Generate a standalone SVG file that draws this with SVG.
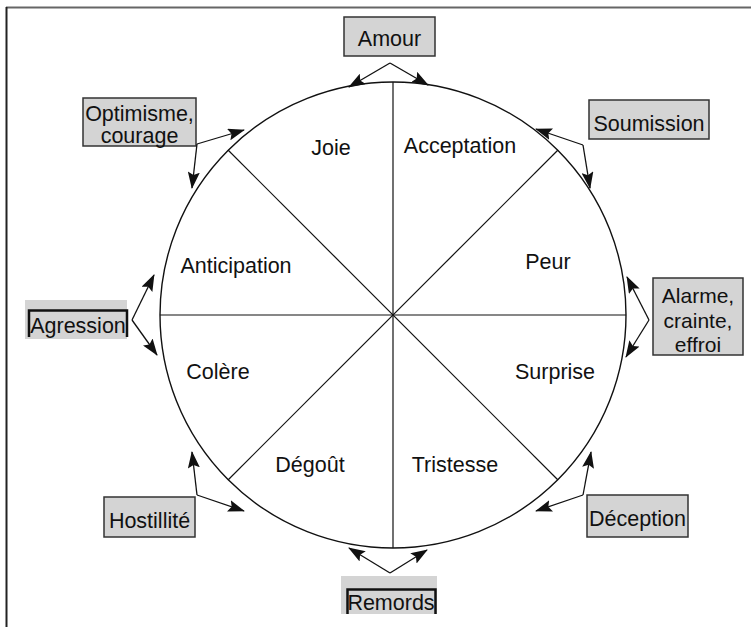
<svg xmlns="http://www.w3.org/2000/svg" width="751" height="627" viewBox="0 0 751 627">
<style>
text{font-family:"Liberation Sans",Arial,sans-serif;font-size:21.5px;fill:#111;text-anchor:middle}
.box{fill:#d4d4d4;stroke:#333;stroke-width:1.5}
.gbox{fill:#d4d4d4;stroke:none}
.frame{fill:none;stroke:#111;stroke-width:2.5}
.arr{fill:none;stroke:#111;stroke-width:1.3;marker-end:url(#ah)}
.sect{stroke:#111;stroke-width:1.2}
</style>
<defs>
<marker id="ah" markerUnits="userSpaceOnUse" markerWidth="17" markerHeight="12" refX="16" refY="6" orient="auto">
<path d="M0,0 L17,6 L0,12 L3,6 z" fill="#111"/>
</marker>
</defs>
<rect width="751" height="627" fill="#fff"/>
<line x1="6" y1="7.5" x2="751" y2="7.5" stroke="#666" stroke-width="2"/>
<line x1="6.5" y1="7" x2="6.5" y2="627" stroke="#222" stroke-width="2"/>
<g id="wheel">
<circle cx="393" cy="315" r="233" fill="none" stroke="#111" stroke-width="1.4"/>
<line class="sect" x1="160" y1="315" x2="626" y2="315"/>
<line class="sect" x1="393" y1="82" x2="393" y2="548"/>
<line class="sect" x1="228" y1="150" x2="558" y2="480"/>
<line class="sect" x1="558" y1="150" x2="228" y2="480"/>
<text x="331" y="155">Joie</text>
<text x="460" y="153">Acceptation</text>
<text x="548" y="269">Peur</text>
<text x="236" y="273">Anticipation</text>
<text x="218" y="379">Colère</text>
<text x="555" y="379">Surprise</text>
<text x="310" y="472">Dégoût</text>
<text x="455" y="472">Tristesse</text>
</g>
<g id="amour">
<rect class="box" x="344" y="17" width="91" height="39"/>
<text x="389.5" y="46">Amour</text>
</g>
<g id="optimisme">
<rect class="box" x="83" y="98" width="113" height="48"/>
<text x="139.5" y="121">Optimisme,</text>
<text x="139.5" y="143">courage</text>
</g>
<g id="soumission">
<rect class="box" x="589" y="100" width="120" height="39"/>
<text x="649" y="131">Soumission</text>
</g>
<g id="alarme">
<rect class="box" x="653" y="278" width="90" height="77"/>
<text x="698" y="303" style="font-size:21px">Alarme,</text>
<text x="698" y="328" style="font-size:21px">crainte,</text>
<text x="698" y="352" style="font-size:21px">effroi</text>
</g>
<g id="agression">
<rect class="gbox" x="25" y="300" width="102" height="39"/>
<path class="frame" d="M29,337 V310.5 H127 V337"/>
<text x="78" y="333">Agression</text>
</g>
<g id="hostilite">
<rect class="box" x="104" y="497" width="91" height="40"/>
<text x="149.5" y="528">Hostillité</text>
</g>
<g id="remords">
<rect class="gbox" x="341" y="576" width="96" height="38"/>
<path class="frame" d="M347.5,614 V589.5 H435.5 V614"/>
<text x="391" y="610">Remords</text>
</g>
<g id="deception">
<rect class="box" x="587" y="495" width="101" height="42"/>
<text x="637.5" y="526">Déception</text>
</g>
<g id="connectors">
<path class="arr" d="M390,63 L349,87"/>
<path class="arr" d="M390,63 L428,85"/>
<path class="arr" d="M197,144 L244,130"/>
<path class="arr" d="M197,144 L192,188"/>
<path class="arr" d="M583,145 L536,129"/>
<path class="arr" d="M583,145 L590,188"/>
<path class="arr" d="M649,320 L627,277"/>
<path class="arr" d="M649,320 L626,357"/>
<path class="arr" d="M132,320 L154,275"/>
<path class="arr" d="M132,320 L157,355"/>
<path class="arr" d="M197,495 L192,452"/>
<path class="arr" d="M197,495 L244,511"/>
<path class="arr" d="M583,495 L591,452"/>
<path class="arr" d="M583,495 L536,511"/>
<path class="arr" d="M390,573 L349,548"/>
<path class="arr" d="M390,573 L427,550"/>
</g>
</svg>
